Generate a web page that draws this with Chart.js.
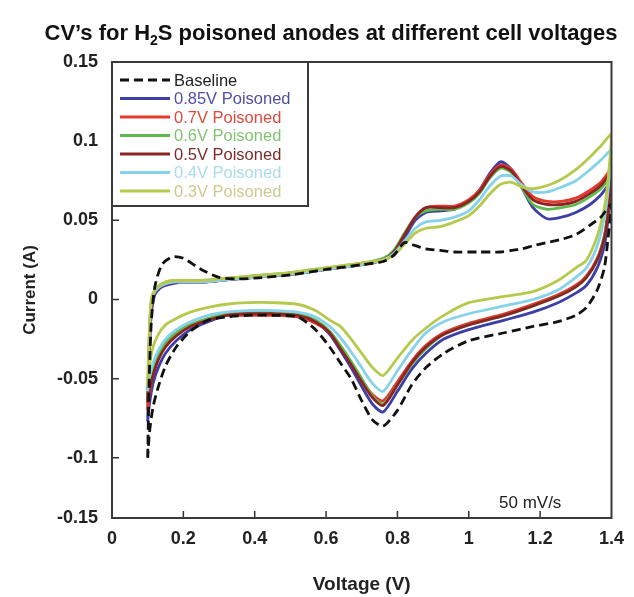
<!DOCTYPE html>
<html>
<head>
<meta charset="utf-8">
<script src="https://cdn.jsdelivr.net/npm/chart.js@4"></script>
<style>
  html, body { margin: 0; padding: 0; background: #fff; }
  #wrap { width: 634px; height: 597px; }
</style>
</head>
<body>
<div id="wrap"><canvas id="c" width="634" height="597"></canvas></div>
<script>
// ---- data ----
const chartTitleA = "CV\u2019s for H";
const chartTitleSub = "2";
const chartTitleB = "S poisoned anodes at different cell voltages";
const xTitle = "Voltage (V)";
const yTitle = "Current (A)";
const noteText = "50 mV/s";

const xTicks = [0, 0.2, 0.4, 0.6, 0.8, 1, 1.2, 1.4];
const yTicks = [0.15, 0.1, 0.05, 0, -0.05, -0.1, -0.15];

const seriesLabels = ["Baseline", "0.85V Poisoned", "0.7V Poisoned", "0.6V Poisoned", "0.5V Poisoned", "0.4V Poisoned", "0.3V Poisoned"];

// forward (anodic) scan voltages
const voltFwd = [0.1, 0.102, 0.105, 0.11, 0.12, 0.14, 0.17, 0.2, 0.25, 0.3, 0.35, 0.4, 0.5, 0.6, 0.7, 0.76, 0.79, 0.82, 0.85, 0.88, 0.92, 0.96, 1.0, 1.03, 1.06, 1.09, 1.12, 1.15, 1.18, 1.22, 1.26, 1.3, 1.34, 1.37, 1.4];
// reverse (cathodic) scan voltages
const voltRev = [1.39, 1.38, 1.36, 1.33, 1.3, 1.25, 1.18, 1.1, 1.0, 0.93, 0.88, 0.84, 0.8, 0.76, 0.73, 0.7, 0.67, 0.64, 0.61, 0.57, 0.52, 0.45, 0.38, 0.32, 0.27, 0.22, 0.18, 0.15, 0.13, 0.115, 0.105, 0.1];

const baselineFwd = [-0.100, -0.075, -0.045, -0.015, 0.008, 0.022, 0.027, 0.026, 0.019, 0.014, 0.013, 0.0135, 0.0155, 0.019, 0.022, 0.024, 0.028, 0.036, 0.034, 0.032, 0.031, 0.030, 0.030, 0.030, 0.030, 0.030, 0.031, 0.032, 0.034, 0.036, 0.038, 0.041, 0.047, 0.052, 0.060];
const baselineRev = [0.038, 0.020, 0.006, -0.005, -0.010, -0.014, -0.017, -0.021, -0.026, -0.034, -0.043, -0.054, -0.070, -0.080, -0.076, -0.064, -0.050, -0.040, -0.030, -0.019, -0.011, -0.010, -0.010, -0.011, -0.013, -0.020, -0.030, -0.042, -0.055, -0.068, -0.084, -0.100];

const v085Fwd = [-0.077, -0.055, -0.032, -0.010, 0.003, 0.008, 0.010, 0.011, 0.011, 0.012, 0.013, 0.014, 0.016, 0.019, 0.022, 0.025, 0.029, 0.039, 0.050, 0.055, 0.056, 0.057, 0.062, 0.069, 0.080, 0.087, 0.082, 0.070, 0.058, 0.051, 0.052, 0.055, 0.060, 0.066, 0.074];
const v085Rev = [0.050, 0.034, 0.020, 0.009, 0.004, -0.002, -0.008, -0.013, -0.019, -0.025, -0.034, -0.044, -0.058, -0.071, -0.066, -0.055, -0.043, -0.032, -0.022, -0.014, -0.010, -0.009, -0.009, -0.010, -0.014, -0.019, -0.026, -0.034, -0.043, -0.053, -0.066, -0.077];

const v07Fwd = [-0.070, -0.050, -0.028, -0.006, 0.005, 0.009, 0.011, 0.011, 0.011, 0.012, 0.013, 0.014, 0.016, 0.019, 0.022, 0.025, 0.030, 0.041, 0.052, 0.058, 0.059, 0.059, 0.063, 0.069, 0.079, 0.085, 0.082, 0.073, 0.065, 0.062, 0.062, 0.064, 0.069, 0.074, 0.082];
const v07Rev = [0.055, 0.040, 0.026, 0.015, 0.009, 0.003, -0.003, -0.009, -0.015, -0.021, -0.029, -0.039, -0.052, -0.064, -0.060, -0.051, -0.040, -0.030, -0.021, -0.015, -0.011, -0.010, -0.010, -0.010, -0.012, -0.016, -0.021, -0.028, -0.037, -0.047, -0.060, -0.070];

const v06Fwd = [-0.062, -0.045, -0.022, -0.002, 0.006, 0.010, 0.012, 0.012, 0.012, 0.013, 0.014, 0.015, 0.017, 0.020, 0.023, 0.026, 0.031, 0.042, 0.052, 0.056, 0.057, 0.057, 0.061, 0.067, 0.077, 0.083, 0.080, 0.070, 0.060, 0.057, 0.058, 0.060, 0.065, 0.070, 0.077];
const v06Rev = [0.055, 0.040, 0.025, 0.014, 0.008, 0.002, -0.004, -0.010, -0.016, -0.022, -0.031, -0.041, -0.054, -0.066, -0.061, -0.050, -0.039, -0.029, -0.020, -0.013, -0.009, -0.008, -0.008, -0.009, -0.012, -0.016, -0.021, -0.027, -0.035, -0.043, -0.053, -0.062];

const v05Fwd = [-0.065, -0.047, -0.025, -0.004, 0.005, 0.009, 0.011, 0.011, 0.011, 0.012, 0.013, 0.014, 0.016, 0.019, 0.022, 0.025, 0.030, 0.041, 0.052, 0.058, 0.058, 0.058, 0.062, 0.068, 0.078, 0.084, 0.081, 0.071, 0.063, 0.060, 0.060, 0.062, 0.067, 0.072, 0.080];
const v05Rev = [0.054, 0.039, 0.025, 0.014, 0.008, 0.002, -0.004, -0.010, -0.016, -0.022, -0.030, -0.040, -0.054, -0.067, -0.062, -0.052, -0.041, -0.031, -0.021, -0.014, -0.010, -0.009, -0.009, -0.010, -0.013, -0.017, -0.023, -0.030, -0.038, -0.048, -0.057, -0.065];

const v04Fwd = [-0.058, -0.040, -0.020, -0.002, 0.005, 0.009, 0.011, 0.011, 0.011, 0.012, 0.013, 0.014, 0.016, 0.019, 0.022, 0.025, 0.029, 0.037, 0.045, 0.049, 0.050, 0.052, 0.056, 0.063, 0.072, 0.078, 0.078, 0.072, 0.068, 0.068, 0.071, 0.075, 0.082, 0.088, 0.094];
const v04Rev = [0.068, 0.052, 0.034, 0.020, 0.014, 0.006, 0.000, -0.004, -0.009, -0.014, -0.021, -0.032, -0.045, -0.058, -0.053, -0.043, -0.033, -0.024, -0.017, -0.011, -0.008, -0.007, -0.007, -0.008, -0.010, -0.014, -0.019, -0.025, -0.032, -0.040, -0.049, -0.058];

const v03Fwd = [-0.055, -0.038, -0.018, 0.000, 0.006, 0.010, 0.012, 0.012, 0.012, 0.013, 0.014, 0.015, 0.017, 0.020, 0.023, 0.025, 0.028, 0.035, 0.042, 0.045, 0.046, 0.049, 0.053, 0.059, 0.067, 0.073, 0.074, 0.071, 0.070, 0.072, 0.076, 0.082, 0.090, 0.097, 0.104];
const v03Rev = [0.075, 0.058, 0.040, 0.025, 0.020, 0.012, 0.005, 0.002, -0.002, -0.010, -0.018, -0.026, -0.037, -0.048, -0.043, -0.034, -0.025, -0.017, -0.013, -0.007, -0.003, -0.002, -0.002, -0.003, -0.005, -0.008, -0.012, -0.016, -0.022, -0.030, -0.042, -0.055];

const seriesColors = ["#111111", "#3b3fa6", "#e5392d", "#5dbb4c", "#8c2424", "#86d2ea", "#b6c94c"];
const legendTextColors = ["#222222", "#4f4fa8", "#d94a3c", "#7fc470", "#7e2a2a", "#a9dcec", "#c9cc8e"];

// ---- build ----
function loop(fwd, rev) {
  const pts = voltFwd.map((v, i) => ({ x: v, y: fwd[i] }));
  return pts.concat(voltRev.map((v, i) => ({ x: v, y: rev[i] })));
}
const seriesData = [
  loop(baselineFwd, baselineRev),
  loop(v085Fwd, v085Rev),
  loop(v07Fwd, v07Rev),
  loop(v06Fwd, v06Rev),
  loop(v05Fwd, v05Rev),
  loop(v04Fwd, v04Rev),
  loop(v03Fwd, v03Rev)
];

const FONT = "'Liberation Sans', Arial, Helvetica, sans-serif";
const Y_MIN = -0.138; // bottom of plotted frame (reference axis is compressed below -0.1)

const datasets = seriesData.map((d, i) => ({
  label: seriesLabels[i],
  data: d,
  showLine: true,
  borderColor: seriesColors[i],
  backgroundColor: seriesColors[i],
  borderWidth: 2.8,
  borderDash: i === 0 ? [9, 5] : [],
  pointRadius: 0,
  tension: 0.25,
  fill: false,
  order: i === 0 ? 0 : 10 - i
}));

const decor = {
  id: 'decor',
  beforeDraw(chart) {
    const ctx = chart.ctx;
    ctx.save();
    ctx.fillStyle = '#fff';
    ctx.fillRect(0, 0, chart.width, chart.height);
    ctx.restore();
  },
  afterDraw(chart) {
    const ctx = chart.ctx;
    const a = chart.chartArea;
    const xs = chart.scales.x, ys = chart.scales.y;
    ctx.save();
    // inward ticks
    ctx.strokeStyle = '#333';
    ctx.lineWidth = 1.5;
    ctx.beginPath();
    xTicks.forEach(v => {
      if (v <= xTicks[0] || v >= xTicks[xTicks.length - 1]) return;
      const px = xs.getPixelForValue(v);
      ctx.moveTo(px, a.bottom); ctx.lineTo(px, a.bottom - 7);
    });
    yTicks.forEach(v => {
      if (v >= 0.15 || v <= -0.15) return;
      const py = ys.getPixelForValue(v);
      ctx.moveTo(a.left, py); ctx.lineTo(a.left + 7, py);
    });
    ctx.stroke();
    // legend box
    const lx = a.left, ly = a.top, lw = 196, lh = 144;
    ctx.fillStyle = '#fff';
    ctx.fillRect(lx, ly, lw, lh);
    ctx.strokeStyle = '#3a3a3a';
    ctx.lineWidth = 2;
    ctx.strokeRect(lx, ly, lw, lh);
    ctx.font = '16.5px ' + FONT;
    ctx.textBaseline = 'middle';
    ctx.textAlign = 'left';
    seriesLabels.forEach((lab, i) => {
      const y = ly + 18 + i * 18.5;
      ctx.strokeStyle = seriesColors[i];
      ctx.lineWidth = 3;
      ctx.setLineDash(i === 0 ? [9, 5] : []);
      ctx.beginPath();
      ctx.moveTo(lx + 8, y); ctx.lineTo(lx + 58, y);
      ctx.stroke();
      ctx.setLineDash([]);
      ctx.fillStyle = legendTextColors[i];
      ctx.fillText(lab, lx + 62, y + 1);
    });
    // frame
    ctx.strokeStyle = '#3a3a3a';
    ctx.lineWidth = 2;
    ctx.strokeRect(a.left, a.top, a.right - a.left, a.bottom - a.top);
    // scan rate note
    ctx.fillStyle = '#222';
    ctx.font = '17px ' + FONT;
    ctx.textBaseline = 'alphabetic';
    ctx.fillText(noteText, 499, 508);
    // title with subscript
    const big = 'bold 22px ' + FONT, small = 'bold 14px ' + FONT;
    ctx.font = big; const wA = ctx.measureText(chartTitleA).width; const wB = ctx.measureText(chartTitleB).width;
    ctx.font = small; const wS = ctx.measureText(chartTitleSub).width;
    let tx = 331 - (wA + wS + wB) / 2;
    const ty = 40;
    ctx.fillStyle = '#111';
    ctx.font = big; ctx.fillText(chartTitleA, tx, ty); tx += wA;
    ctx.font = small; ctx.fillText(chartTitleSub, tx, ty + 5); tx += wS;
    ctx.font = big; ctx.fillText(chartTitleB, tx, ty);
    ctx.restore();
  }
};

new Chart(document.getElementById('c'), {
  type: 'scatter',
  data: { datasets },
  options: {
    responsive: false,
    animation: false,
    events: [],
    layout: { padding: { top: 62, right: 14, bottom: 0, left: 0 } },
    plugins: { legend: { display: false }, tooltip: { enabled: false }, title: { display: false } },
    scales: {
      x: {
        type: 'linear', min: 0, max: 1.4,
        afterBuildTicks: s => { s.ticks = xTicks.map(v => ({ value: v })); },
        afterFit: s => { s.height = 79; },
        grid: { display: false, drawTicks: false },
        border: { display: false },
        ticks: { padding: 10, color: '#222', font: { family: FONT, size: 18, weight: 'bold' }, maxRotation: 0,
          callback: v => String(Math.round(v * 10) / 10) },
        title: { display: true, text: xTitle, color: '#222', font: { family: FONT, size: 19, weight: 'bold' }, padding: { top: 0, bottom: 1 } }
      },
      y: {
        type: 'linear', min: Y_MIN, max: 0.15,
        afterBuildTicks: s => { s.ticks = yTicks.map(v => ({ value: v < Y_MIN ? Y_MIN : v })); },
        afterFit: s => { s.width = 112; },
        grid: { display: false, drawTicks: false },
        border: { display: false },
        ticks: { padding: 14, color: '#222', font: { family: FONT, size: 18, weight: 'bold' },
          callback: (v) => (v <= Y_MIN + 1e-9 ? String(yTicks[yTicks.length - 1]) : String(Math.round(v * 100) / 100)) },
        title: { display: true, text: yTitle, color: '#222', font: { family: FONT, size: 17, weight: 'bold' }, padding: { top: 20, bottom: 0 } }
      }
    }
  },
  plugins: [decor]
});
</script>
</body>
</html>
